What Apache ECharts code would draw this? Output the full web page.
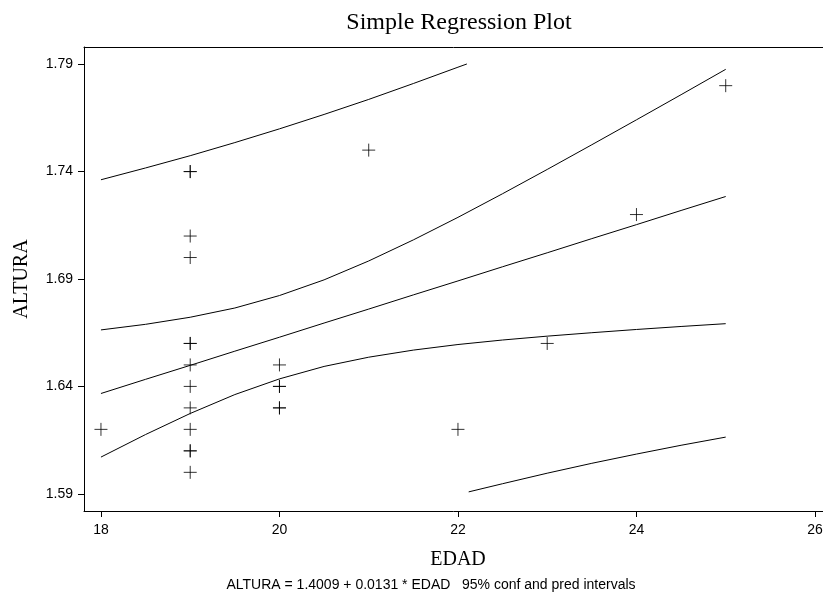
<!DOCTYPE html>
<html>
<head>
<meta charset="utf-8">
<script src="https://cdn.jsdelivr.net/npm/echarts@6/dist/echarts.min.js"></script>
<style>
html,body{margin:0;padding:0;background:#fff;}
#chart{width:823px;height:598px;}
</style>
</head>
<body>
<div id="chart"></div>
<script>
// observations
var edad = [18, 19, 19, 19, 19, 19, 19, 19, 19, 19, 19, 19, 19, 19, 20, 20, 20, 20, 20, 21, 22, 23, 24, 25];
var altura = [1.62, 1.74, 1.74, 1.71, 1.70, 1.66, 1.66, 1.65, 1.64, 1.63, 1.62, 1.61, 1.61, 1.60,
	1.65, 1.64, 1.64, 1.63, 1.63, 1.75, 1.62, 1.66, 1.72, 1.78];

// fitted line and conf band
var bandX = [18, 18.5, 19, 19.5, 20, 20.5, 21, 21.5, 22, 22.5, 23, 23.5, 24, 24.5, 25];
var fitY = [1.6367, 1.6433, 1.6498, 1.6564, 1.6629, 1.6695, 1.6760, 1.6826, 1.6891, 1.6957, 1.7022, 1.7088, 1.7153, 1.7219, 1.7284];
var confUp = [1.6663, 1.6689, 1.6722, 1.6765, 1.6823, 1.6896, 1.6984, 1.7082, 1.7187, 1.7297, 1.7410, 1.7525, 1.7641, 1.7758, 1.7876];
var confLo = [1.6071, 1.6176, 1.6274, 1.6362, 1.6435, 1.6493, 1.6536, 1.6569, 1.6595, 1.6616, 1.6634, 1.6650, 1.6665, 1.6679, 1.6692];

// pred band (cut at the tick range)
var predUpX = [18, 18.5, 19, 19.5, 20, 20.5, 21, 21.5, 22, 22.1];
var predUp = [1.7362, 1.7417, 1.7474, 1.7535, 1.7599, 1.7666, 1.7736, 1.7810, 1.7886, 1.7901];
var predLoX = [22.12, 22.5, 23, 23.5, 24, 24.5, 25];
var predLo = [1.5909, 1.5947, 1.5996, 1.6042, 1.6085, 1.6126, 1.6164];

var xTicks = [18, 20, 22, 24, 26];
var yTicks = [1.59, 1.64, 1.69, 1.74, 1.79];

function pairs(xs, ys) {
	var out = [];
	for (var i = 0; i < xs.length; i++) out.push([xs[i], ys[i]]);
	return out;
}

function curve(xs, ys) {
	return {
		type: 'line', data: pairs(xs, ys), showSymbol: false, symbol: 'none',
		lineStyle: {color: '#000', width: 1}, silent: true, animation: false, z: 2
	};
}

var serif = '"Liberation Serif", "DejaVu Serif", serif';
var sans = '"Liberation Sans", Arial, sans-serif';

var myChart = echarts.init(document.getElementById('chart'));
myChart.setOption({
	backgroundColor: '#fff',
	animation: false,
	grid: {left: 84, top: 47, right: 0, bottom: 87, containLabel: false, outerBoundsMode: 'none'},
	xAxis: [{
		type: 'value', min: 17.81, max: 26.09,
		axisLine: {show: true, lineStyle: {color: '#000', width: 1}},
		axisTick: {show: true, length: 6, customValues: xTicks, lineStyle: {color: '#000'}},
		axisLabel: {customValues: xTicks, margin: 12, fontFamily: sans, fontSize: 14, color: '#000'},
		splitLine: {show: false}
	}, {
		type: 'value', position: 'top', min: 17.81, max: 26.09,
		axisLine: {show: true, lineStyle: {color: '#000', width: 1}},
		axisTick: {show: false}, axisLabel: {show: false}, splitLine: {show: false}
	}],
	yAxis: {
		type: 'value', min: 1.582, max: 1.798,
		name: 'ALTURA', nameLocation: 'middle', nameGap: 52, nameRotate: 90,
		nameTextStyle: {fontFamily: serif, fontSize: 20, color: '#000'},
		axisLine: {show: true, lineStyle: {color: '#000', width: 1}},
		axisTick: {show: true, length: 6, customValues: yTicks, lineStyle: {color: '#000'}},
		axisLabel: {
			customValues: yTicks, margin: 11, fontFamily: sans, fontSize: 14, color: '#000',
			formatter: function(v) { return v.toFixed(2); }
		},
		splitLine: {show: false}
	},
	graphic: [{
		type: 'text', x: 459, y: 23,
		style: {text: 'Simple Regression Plot', fontFamily: serif, fontSize: 24, fill: '#000',
			textAlign: 'center', textVerticalAlign: 'middle'}
	}, {
		type: 'text', x: 458, y: 560,
		style: {text: 'EDAD', fontFamily: serif, fontSize: 20, fill: '#000',
			textAlign: 'center', textVerticalAlign: 'middle'}
	}, {
		type: 'text', x: 431, y: 585,
		style: {text: 'ALTURA = 1.4009 + 0.0131 * EDAD   95% conf and pred intervals',
			fontFamily: sans, fontSize: 14, fill: '#000', textAlign: 'center', textVerticalAlign: 'middle'}
	}],
	series: [
		{
			type: 'scatter', data: pairs(edad, altura),
			symbol: 'path://M0,6.5H13M6.5,0V13', symbolSize: 13,
			itemStyle: {color: 'transparent', borderColor: '#000', borderWidth: 1},
			silent: true, z: 3
		},
		curve(bandX, fitY),
		curve(bandX, confUp),
		curve(bandX, confLo),
		curve(predUpX, predUp),
		curve(predLoX, predLo)
	]
});
</script>
</body>
</html>
